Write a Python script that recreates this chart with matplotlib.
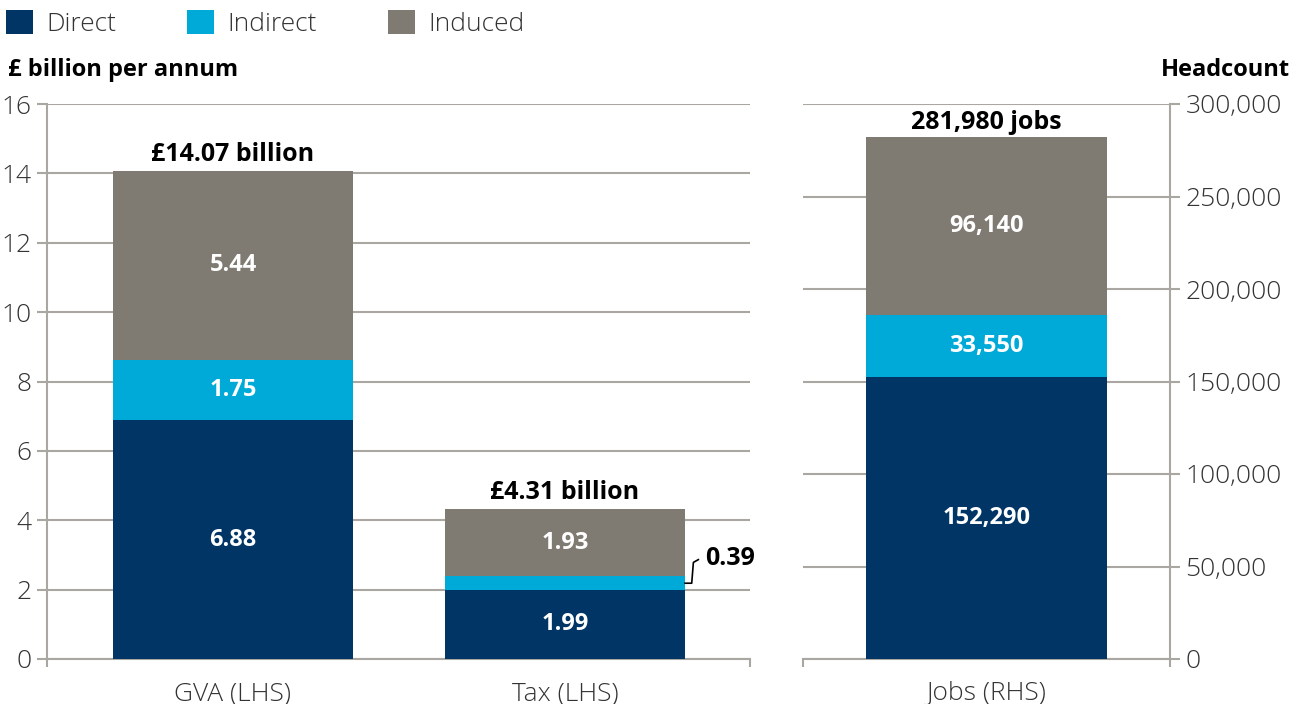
import matplotlib.pyplot as plt
from matplotlib.patches import Patch

plt.rcParams['font.family'] = ['Open Sans', 'DejaVu Sans']

# values
series = ['Direct', 'Indirect', 'Induced']
colors = ['#003566', '#00aad8', '#7f7b72']

money_cats = ['GVA (LHS)', 'Tax (LHS)']
money_vals = {
    'Direct': [6.88, 1.99],
    'Indirect': [1.75, 0.39],
    'Induced': [5.44, 1.93],
}
money_totals = ['£14.07 billion', '£4.31 billion']

jobs_cats = ['Jobs (RHS)']
jobs_vals = {
    'Direct': [152290],
    'Indirect': [33550],
    'Induced': [96140],
}
jobs_totals = ['281,980 jobs']

W, H = 1305, 704
grid_col = '#aaa7a2'
txt_col = '#333333'
FS_LIGHT = 19   # ticks, legend
FS_VAL = 17     # numbers inside bars
FS_TOT = 18     # totals above bars
FS_HEAD = 17    # axis headings

fig = plt.figure(figsize=(W / 100, H / 100), dpi=100)


def px_axes(x0, x1, ytop, ybot):
    return fig.add_axes([x0 / W, (H - ybot) / H, (x1 - x0) / W, (ybot - ytop) / H])


def style(ax, side):
    for s in ax.spines.values():
        s.set_visible(False)
    ax.spines[side].set_visible(True)
    ax.spines[side].set_color(grid_col)
    ax.spines[side].set_linewidth(1.5)
    ax.spines['bottom'].set_visible(True)
    ax.spines['bottom'].set_color(grid_col)
    ax.spines['bottom'].set_linewidth(1.5)
    ax.yaxis.grid(True, color=grid_col, linewidth=1.5)
    ax.set_axisbelow(True)
    ax.tick_params(axis='y', colors=grid_col, labelcolor=txt_col, labelsize=FS_LIGHT,
                   length=7, width=1.5, direction='out', pad=4)
    ax.tick_params(axis='x', which='major', length=0, labelsize=FS_LIGHT, labelcolor=txt_col, pad=16)
    ax.tick_params(axis='x', which='minor', length=6, width=1.5, color=grid_col)
    if side == 'right':
        ax.yaxis.tick_right()
    for lab in ax.get_xticklabels() + ax.get_yticklabels():
        lab.set_fontweight('light')


def stacked(ax, xs, vals, width, fmt, totals, top_pad):
    bottom = [0] * len(xs)
    for name, col in zip(series, colors):
        v = vals[name]
        ax.bar(xs, v, width, bottom=bottom, color=col, zorder=3)
        for i, (x, val) in enumerate(zip(xs, v)):
            if val / ax.get_ylim()[1] > 0.05:
                ax.text(x, bottom[i] + val / 2, fmt(val), ha='center', va='center',
                        color='white', fontsize=FS_VAL, fontweight='bold', zorder=4)
        bottom = [b + val for b, val in zip(bottom, v)]
    for x, b, t in zip(xs, bottom, totals):
        ax.text(x, b + top_pad, t, ha='center', va='bottom', color='black',
                fontsize=FS_TOT, fontweight='bold')
    return bottom


# left panel: £ billion
ax1 = px_axes(47, 750, 104, 659)
ax1.set_ylim(0, 16)
ax1.set_xlim(-0.06, 2.057)
x1 = [0.5, 1.5]
bw1 = 0.723
ax1.set_yticks(range(0, 17, 2))
ax1.set_xticks(x1)
ax1.set_xticklabels(money_cats)
ax1.set_xticks([-0.06, 2.057], minor=True)
style(ax1, 'left')
stacked(ax1, x1, money_vals, bw1, lambda v: f'{v:.2f}', money_totals, 0.12)

# leader for the small indirect tax slice
tx = x1[1] + bw1 / 2
mid = money_vals['Direct'][1] + money_vals['Indirect'][1] / 2
ax1.plot([tx, tx + 0.02, tx + 0.025, tx + 0.04], [mid, mid, mid + 0.6, mid + 0.68],
         color='black', lw=1.2, zorder=5, clip_on=False)
ax1.text(tx + 0.06, mid + 0.72, f"{money_vals['Indirect'][1]:.2f}", ha='left', va='center',
         fontsize=FS_TOT, fontweight='bold', color='black')

# right panel: headcount
ax2 = px_axes(803, 1170, 104, 659)
ax2.set_ylim(0, 300000)
ax2.set_xlim(0, 1)
ax2.set_yticks(range(0, 300001, 50000))
ax2.set_yticklabels([f'{v:,}' for v in range(0, 300001, 50000)])
x2 = [0.5]
ax2.set_xticks(x2)
ax2.set_xticklabels(jobs_cats)
ax2.set_xticks([0, 1], minor=True)
style(ax2, 'right')
stacked(ax2, x2, jobs_vals, 0.654, lambda v: f'{v:,}', jobs_totals, 1500)

# axis titles
fig.text(8 / W, 1 - 70 / H, '£ billion per annum', ha='left', va='center',
         fontsize=FS_HEAD, fontweight='bold', color='black')
fig.text(1290 / W, 1 - 70 / H, 'Headcount', ha='right', va='center',
         fontsize=FS_HEAD, fontweight='bold', color='black')

# legend
handles = [Patch(facecolor=c, edgecolor='none', label=s) for s, c in zip(series, colors)]
leg = fig.legend(handles=handles, loc='upper left', bbox_to_anchor=(6 / W, 1 - 10 / H), ncol=3,
                 frameon=False, fontsize=FS_LIGHT, handlelength=1.02, handleheight=1.02,
                 handletextpad=0.5, columnspacing=2.7, borderaxespad=0, borderpad=0)
for t in leg.get_texts():
    t.set_color(txt_col)
    t.set_fontweight('light')

fig.savefig('out.png', dpi=100)
